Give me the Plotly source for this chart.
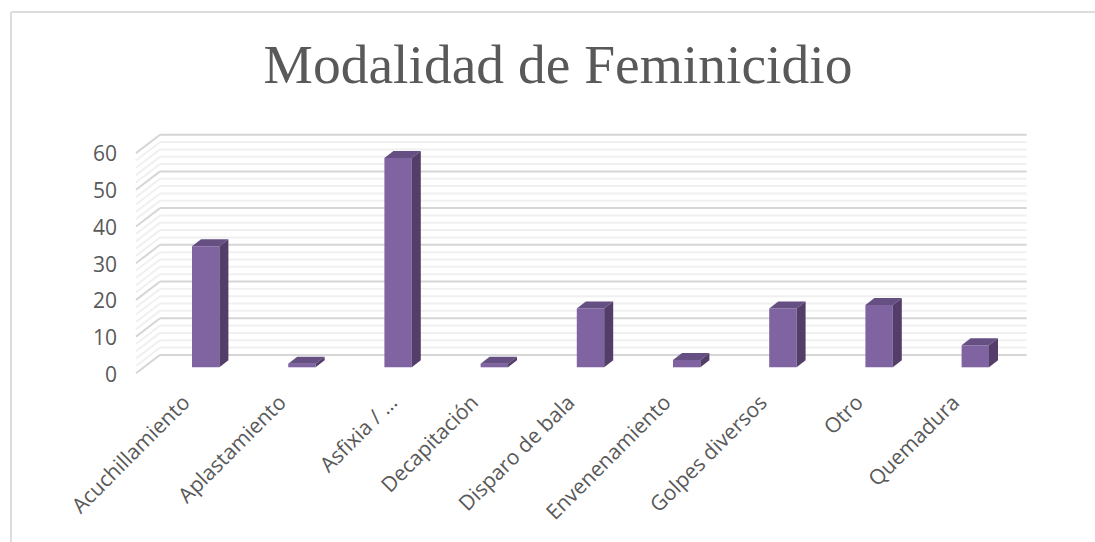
import plotly.graph_objects as go

categories = ["Acuchillamiento", "Aplastamiento", "Asfixia / …", "Decapitación", "Disparo de bala",
              "Envenenamiento", "Golpes diversos", "Otro", "Quemadura"]
values = [33, 1, 57, 1, 16, 2, 16, 17, 6]
major_ticks = [0, 10, 20, 30, 40, 50, 60]
minor_ticks = [v for v in range(0, 61, 2) if v % 10]

W, H = 1095, 542
L, R, T, B = 130, 1040, 120, 380
PX_X = 96.2            # px per category
PX_Y = 3.67            # px per unit
X0 = 205.7             # px of first category
Y0 = 373.3             # px of value 0 on the front edge
WALL_DX = 24 / PX_X
WALL_DY = 18.4 / PX_Y
WALL_X1 = (1026.7 - X0) / PX_X
BAR_BASE = 6 / PX_Y
BAR_W = 27.4 / PX_X
BAR_DX = 9 / PX_X
BAR_DY = 7 / PX_Y
FRONT_X = (136 - X0) / PX_X
LABEL_NUDGE = {2: 15 / PX_X}  # the truncated label sits further right

shapes = []
for vals, color, width in ((minor_ticks, "#F0F0F0", 2), (major_ticks, "#D6D6D6", 2)):
    for v in vals:
        shapes.append(dict(type="line", layer="below", xref="x", yref="y",
                           x0=FRONT_X, y0=v, x1=FRONT_X + WALL_DX, y1=v + WALL_DY,
                           line=dict(color=color, width=width)))
        shapes.append(dict(type="line", layer="below", xref="x", yref="y",
                           x0=FRONT_X + WALL_DX, y0=v + WALL_DY, x1=WALL_X1, y1=v + WALL_DY,
                           line=dict(color=color, width=width)))
# frame of the chart
shapes.append(dict(type="line", xref="paper", yref="paper", layer="below",
                   x0=(11 - L) / (R - L), x1=(11 - L) / (R - L), y0=(B - H) / (B - T), y1=(B - 12) / (B - T),
                   line=dict(color="#DDDDDD", width=2)))
shapes.append(dict(type="line", xref="paper", yref="paper", layer="below",
                   x0=(11 - L) / (R - L), x1=(W - L) / (R - L), y0=(B - 12) / (B - T), y1=(B - 12) / (B - T),
                   line=dict(color="#DDDDDD", width=2)))

fig = go.Figure()
xs = list(range(len(categories)))
fig.add_trace(go.Bar(x=xs, y=values, base=BAR_BASE, width=BAR_W, marker=dict(color="#8064A2", line=dict(width=0)),
                     hoverinfo="x+y", showlegend=False))
for i, v in enumerate(values):
    xl, xr = i - BAR_W / 2, i + BAR_W / 2
    top = v + BAR_BASE
    fig.add_trace(go.Scatter(x=[xl, xr, xr + BAR_DX, xl + BAR_DX, xl],
                             y=[top, top, top + BAR_DY, top + BAR_DY, top],
                             fill="toself", fillcolor="#654F83", mode="lines", line=dict(width=0),
                             hoverinfo="skip", showlegend=False))
    fig.add_trace(go.Scatter(x=[xr, xr + BAR_DX, xr + BAR_DX, xr, xr],
                             y=[BAR_BASE, BAR_BASE + BAR_DY, top + BAR_DY, top, BAR_BASE],
                             fill="toself", fillcolor="#533E69", mode="lines", line=dict(width=0),
                             hoverinfo="skip", showlegend=False))

fig.update_layout(
    width=W, height=H, autosize=False,
    margin=dict(l=L, r=W - R, t=T, b=H - B, pad=0),
    paper_bgcolor="white", plot_bgcolor="rgba(0,0,0,0)",
    title=dict(text="Modalidad de Feminicidio", x=558 / W, xanchor="center", y=1 - 64 / H, yanchor="middle",
               font=dict(family="Liberation Serif", size=55.5, color="#595959")),
    shapes=shapes,
    xaxis=dict(range=[(L - X0) / PX_X, (R - X0) / PX_X], tickmode="array",
               tickvals=[i + LABEL_NUDGE.get(i, 0) for i in xs], ticktext=categories,
               tickangle=-45, showgrid=False, zeroline=False, showline=False, ticks="",
               tickfont=dict(family="Open Sans", size=21, color="#595959"), ticklabelstandoff=5, ticklabelshift=-22),
    yaxis=dict(range=[(Y0 - B) / PX_Y, (Y0 - T) / PX_Y], tickmode="array", tickvals=major_ticks,
               showgrid=False, zeroline=False, showline=False, ticks="",
               tickfont=dict(family="Open Sans", size=21, color="#595959"), ticklabelstandoff=12, ticklabelshift=1),
)
fig.write_html("out.html", config=dict(displayModeBar=False),
               post_script="document.body.style.margin='0';document.documentElement.style.overflow='hidden';")
